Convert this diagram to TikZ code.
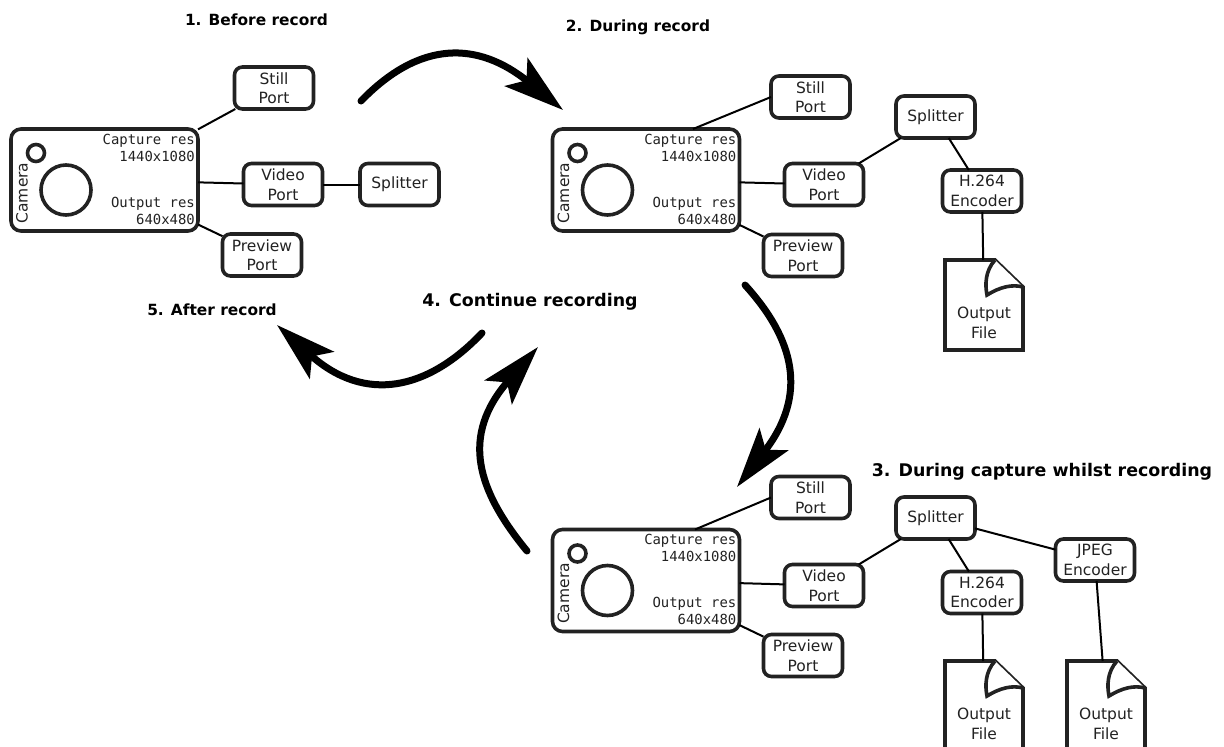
\documentclass[tikz,border=0pt]{standalone}
\usepackage{fontspec}
\setmainfont{DejaVu Sans}
\newfontfamily\monof{DejaVu Sans Mono}
\usetikzlibrary{arrows.meta}
\definecolor{ink}{HTML}{222222}
\tikzset{
  x=1pt,y=-1pt,
  portbox/.style={draw=ink,line width=3.6pt,rounded corners=8pt,fill=white,text=ink,minimum width=79pt,minimum height=42pt,inner sep=0pt,outer sep=0pt,align=center,font=\fontsize{15.5}{19.5}\selectfont},
  cambox/.style={draw=ink,line width=3.6pt,rounded corners=10pt,fill=white,minimum width=187pt,minimum height=102pt,inner sep=0pt,outer sep=0pt},
  lens/.style={draw=ink,line width=3.6pt,circle,inner sep=0pt,outer sep=0pt},
  restext/.style={text=ink,anchor=east,align=right,inner sep=0pt,font=\monof\fontsize{13.9}{17}\selectfont},
  camlabel/.style={text=ink,rotate=90,inner sep=0pt,font=\fontsize{15.5}{19}\selectfont},
  filetext/.style={text=ink,align=center,inner sep=0pt,font=\fontsize{15.5}{19.5}\selectfont},
  fileshape/.style={draw=ink,line width=3.6pt,fill=white,line join=miter},
  fileanchor/.style={minimum width=78pt,minimum height=90pt,inner sep=0pt,outer sep=0pt},
  conn/.style={draw=black,line width=2pt},
  bigarrow/.style={draw=black,line width=7pt,line cap=round,-{Stealth[length=60pt,width=36pt,inset=13pt]}},
  steptitle/.style={text=black,inner sep=0pt,font=\bfseries\fontsize{#1}{18}\selectfont},
}
\newcommand{\cameragroup}[3]{%
  \node[cambox] (#1cam) at (#2+104.5,#3+180) {};
  \node[lens,minimum size=17pt] (#1small) at (#2+36,#3+153) {};
  \node[lens,minimum size=50pt] (#1big) at (#2+66,#3+190) {};
  \node[camlabel] (#1name) at (#2+22,#3+193) {Camera};
  \node[restext] (#1cap) at (#2+195,#3+147.5) {Capture res\\1440x1080};
  \node[restext] (#1out) at (#2+195,#3+210.5) {Output res\\640x480};
}
\newcommand{\outfile}[3]{%
  \node[fileanchor] (#1) at (#2+39,#3+45) {};
  \draw[fileshape] (#2,#3) -- (#2+50,#3) -- (#2+78,#3+27) -- (#2+78,#3+90) -- (#2,#3+90) -- cycle;
  \draw[fileshape] (#2+50,#3) .. controls (#2+40,#3+11) and (#2+40,#3+25) .. (#2+42,#3+35) .. controls (#2+55,#3+27) and (#2+67,#3+24) .. (#2+78,#3+27);
  \node[filetext] (#1text) at (#2+39,#3+63) {Output\\File};
}
\begin{document}
\begin{tikzpicture}
\useasboundingbox (0,0) rectangle (1224,747);
\clip (0,0) rectangle (1224,747);

% titles
\node[steptitle=15.4] (t1) at (256.5,20) {1. Before record};
\node[steptitle=15.4] (t2) at (638,27) {2. During record};
\node[steptitle=17.4] (t3) at (1042,472) {3. During capture whilst recording};
\node[steptitle=17.4] (t4) at (530,302) {4. Continue recording};
\node[steptitle=15.4] (t5) at (212,310) {5. After record};

% group 1
\cameragroup{a}{0}{0}
\node[portbox] (astill) at (274,88) {Still\\Port};
\node[portbox] (avideo) at (283,184.5) {Video\\Port};
\node[portbox] (apreview) at (262,255) {Preview\\Port};
\node[portbox] (asplit) at (399.5,184.5) {Splitter};
\draw[conn] (acam) -- (astill);
\draw[conn] (acam) -- (avideo);
\draw[conn] (acam) -- (apreview);
\draw[conn] (avideo) -- (asplit);

% group 2
\cameragroup{b}{541.5}{0}
\node[portbox] (bstill) at (810.5,97) {Still\\Port};
\node[portbox] (bvideo) at (824,184.5) {Video\\Port};
\node[portbox] (bpreview) at (803,255.5) {Preview\\Port};
\node[portbox] (bsplit) at (935.5,117) {Splitter};
\node[portbox] (benc) at (982,191) {H.264\\Encoder};
\outfile{bfile}{945}{260}
\draw[conn] ([xshift=47pt]bcam.north) -- (bstill.west);
\draw[conn] (bcam) -- (bvideo);
\draw[conn] (bcam) -- (bpreview);
\draw[conn] (bvideo) -- (bsplit);
\draw[conn] (bsplit) -- (benc);
\draw[conn] (benc) -- (bfile);

% group 3
\cameragroup{c}{541.5}{400.5}
\node[portbox] (cstill) at (810.5,497.5) {Still\\Port};
\node[portbox] (cvideo) at (824,585.5) {Video\\Port};
\node[portbox] (cpreview) at (803,655.5) {Preview\\Port};
\node[portbox] (csplit) at (935.5,518) {Splitter};
\node[portbox] (cenc) at (982,592.5) {H.264\\Encoder};
\node[portbox] (cjpeg) at (1095,560) {JPEG\\Encoder};
\outfile{cfileA}{945}{661}
\outfile{cfileB}{1067}{661}
\draw[conn] ([xshift=49pt]ccam.north) -- (cstill.west);
\draw[conn] (ccam) -- (cvideo);
\draw[conn] (ccam) -- (cpreview);
\draw[conn] (cvideo) -- (csplit);
\draw[conn] (csplit) -- (cenc);
\draw[conn] (csplit) -- (cjpeg);
\draw[conn] (cenc) -- (cfileA);
\draw[conn] (cjpeg) -- (cfileB);

% cycle arrows
\coordinate (a1s) at (361,101);
\coordinate (a1e) at (563,110);
\coordinate (a2s) at (745,285);
\coordinate (a2e) at (737,487);
\coordinate (a3s) at (527,551);
\coordinate (a3e) at (538,347);
\coordinate (a4s) at (482,333);
\coordinate (a4e) at (277,325);
\draw[bigarrow] (a1s) .. controls (420,40) and (478,41) .. (a1e);
\draw[bigarrow] (a2s) .. controls (795,340) and (808,395) .. (a2e);
\draw[bigarrow] (a3s) .. controls (477,490) and (460,436) .. (a3e);
\draw[bigarrow] (a4s) .. controls (428,390) and (365,404) .. (a4e);
\end{tikzpicture}
\end{document}
